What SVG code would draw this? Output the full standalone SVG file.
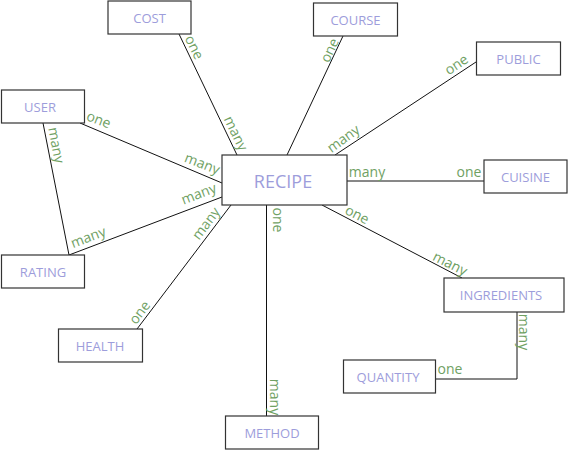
<svg xmlns="http://www.w3.org/2000/svg" width="570" height="452" viewBox="0 0 570 452">
<style>
.box{fill:#fff;stroke:#333;stroke-width:1.2}
.nt{font-family:"Open Sans","Noto Sans",sans-serif;font-size:13px;fill:#9d9ddb;text-anchor:middle;dominant-baseline:central}
.big{font-size:18px}
.lb{font-family:"Open Sans","Noto Sans",sans-serif;font-size:14px;fill:#6fa163;text-anchor:middle;dominant-baseline:central}
.ln{stroke:#111;stroke-width:1;fill:none}
</style>
<rect width="570" height="452" fill="#fff"/>
<g id="connectors">
<line class="ln" x1="179" y1="34" x2="237" y2="155"/>
<line class="ln" x1="343" y1="36" x2="287" y2="155"/>
<line class="ln" x1="476" y1="62" x2="335" y2="155"/>
<line class="ln" x1="347" y1="181" x2="484" y2="181"/>
<line class="ln" x1="322" y1="205" x2="462" y2="278"/>
<line class="ln" x1="266.5" y1="205" x2="266.5" y2="416"/>
<line class="ln" x1="137" y1="329" x2="231" y2="205"/>
<line class="ln" x1="69" y1="255" x2="222" y2="197"/>
<line class="ln" x1="80" y1="123" x2="222" y2="183"/>
<line class="ln" x1="43" y1="123" x2="69" y2="255"/>
<polyline class="ln" points="517,312 517,379 436,379"/>
<text class="lb" transform="translate(195,47) rotate(64)">one</text>
<text class="lb" transform="translate(236.5,133) rotate(64)">many</text>
<text class="lb" transform="translate(329,50) rotate(-65)">one</text>
<text class="lb" transform="translate(456,64) rotate(-34)">one</text>
<text class="lb" transform="translate(343,138) rotate(-36)">many</text>
<text class="lb" x="367" y="171">many</text>
<text class="lb" x="469" y="171">one</text>
<text class="lb" transform="translate(357.5,214) rotate(27)">one</text>
<text class="lb" transform="translate(450.5,263) rotate(27)">many</text>
<text class="lb" transform="translate(278.5,220) rotate(90)">one</text>
<text class="lb" transform="translate(275,397) rotate(90)">many</text>
<text class="lb" transform="translate(139,312) rotate(-53)">one</text>
<text class="lb" transform="translate(205.5,223) rotate(-53)">many</text>
<text class="lb" transform="translate(88,236.5) rotate(-21)">many</text>
<text class="lb" transform="translate(198.5,193) rotate(-21)">many</text>
<text class="lb" transform="translate(99,119) rotate(21)">one</text>
<text class="lb" transform="translate(202.5,163) rotate(21)">many</text>
<text class="lb" transform="translate(57,145) rotate(79)">many</text>
<text class="lb" x="450" y="368">one</text>
<text class="lb" transform="translate(524.5,332) rotate(90)">many</text>
</g>
<g id="cost"><rect class="box" x="108" y="1" width="83" height="33"/><text class="nt" x="149.5" y="18">COST</text></g>
<g id="course"><rect class="box" x="313.5" y="3" width="84" height="33"/><text class="nt" x="355.5" y="20">COURSE</text></g>
<g id="public"><rect class="box" x="476.5" y="42" width="84" height="33"/><text class="nt" x="518.5" y="59">PUBLIC</text></g>
<g id="cuisine"><rect class="box" x="484" y="160" width="83" height="33"/><text class="nt" x="525.5" y="177">CUISINE</text></g>
<g id="user"><rect class="box" x="1.5" y="90" width="83" height="33"/><text class="nt" x="40" y="107">USER</text></g>
<g id="rating"><rect class="box" x="1.5" y="255" width="83" height="33"/><text class="nt" x="43" y="272">RATING</text></g>
<g id="recipe"><rect class="box" x="222" y="155" width="125" height="50"/><text class="nt big" x="283" y="181">RECIPE</text></g>
<g id="ingredients"><rect class="box" x="444" y="278" width="120" height="34"/><text class="nt" x="501" y="295">INGREDIENTS</text></g>
<g id="health"><rect class="box" x="58.5" y="329" width="84" height="33"/><text class="nt" x="100" y="346">HEALTH</text></g>
<g id="method"><rect class="box" x="225.5" y="416" width="93" height="33"/><text class="nt" x="272" y="433">METHOD</text></g>
<g id="quantity"><rect class="box" x="343.5" y="360" width="92" height="33"/><text class="nt" x="388" y="377">QUANTITY</text></g>
</svg>
